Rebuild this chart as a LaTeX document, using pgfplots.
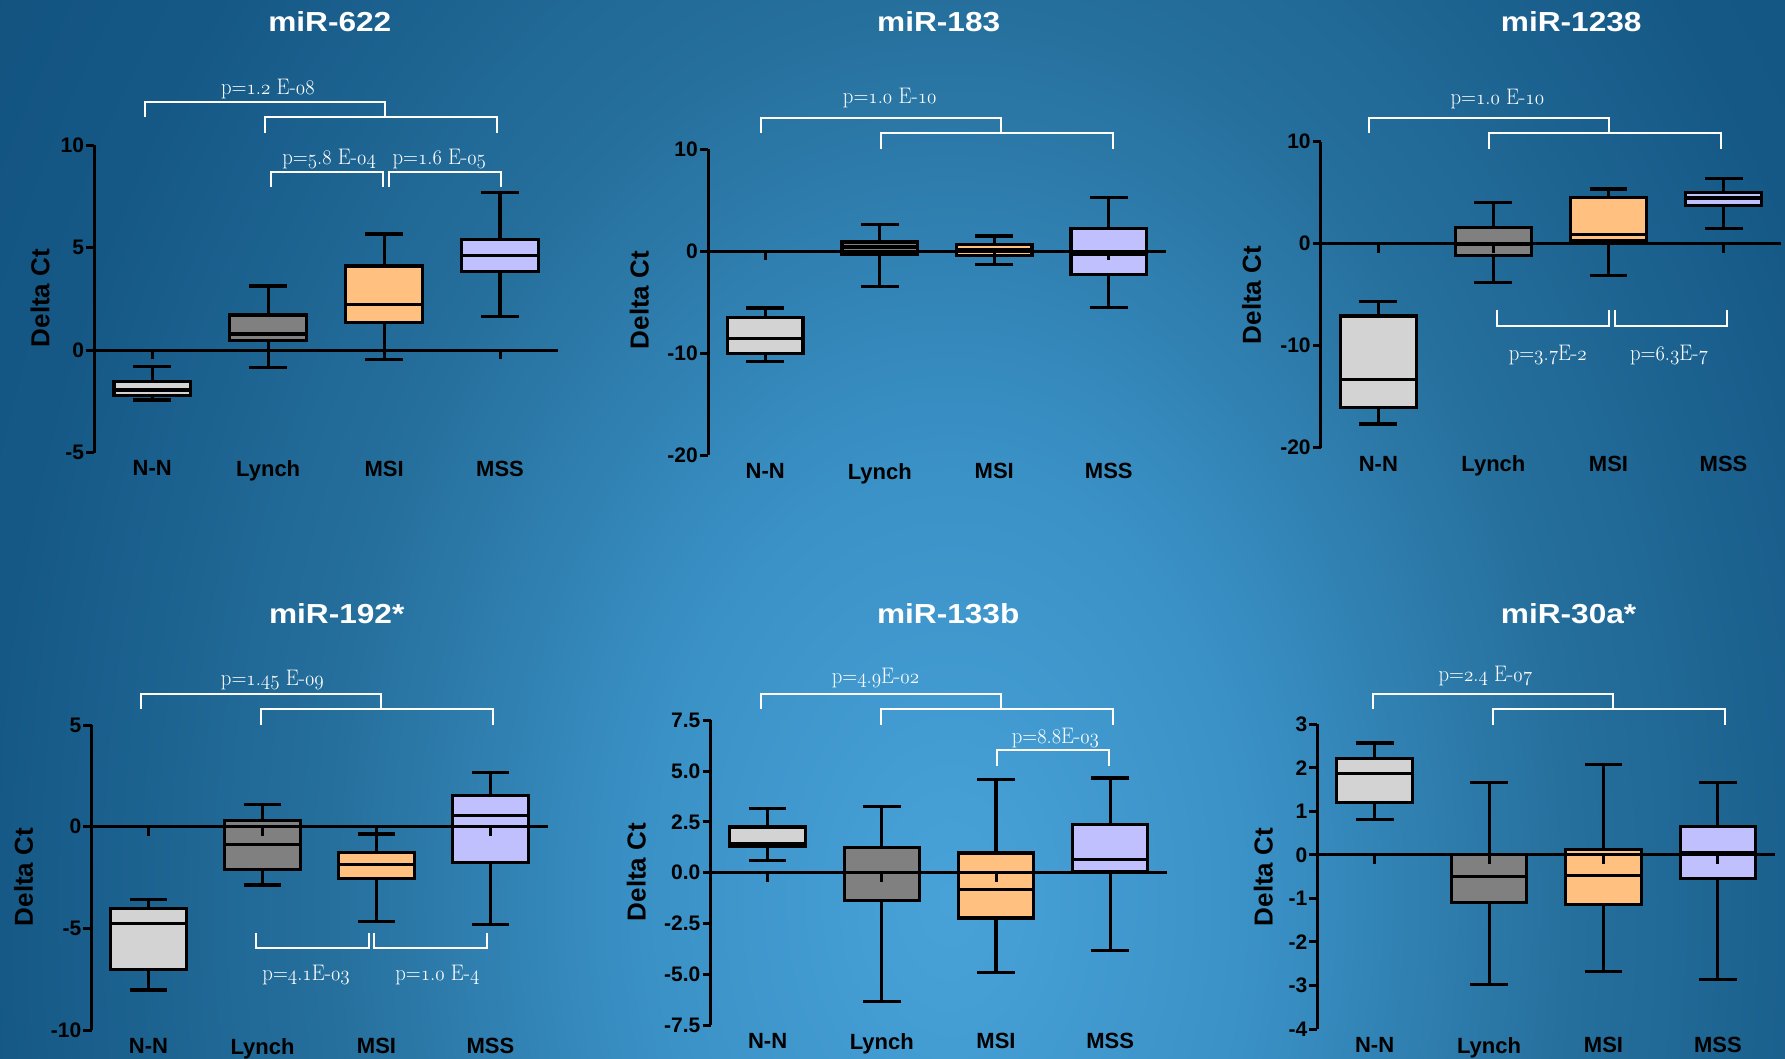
\documentclass[border=0pt]{standalone}
\usepackage{fontspec}
\setsansfont{Liberation Sans}
\usepackage{graphicx}
\usepackage{pgfplots}
\pgfplotsset{compat=1.18}
\usepgfplotslibrary{statistics}
\definecolor{nn}{RGB}{211,211,211}
\definecolor{ly}{RGB}{128,128,128}
\definecolor{msi}{RGB}{255,192,128}
\definecolor{mss}{RGB}{192,192,255}
\definecolor{bgA}{RGB}{72,162,216}
\definecolor{bgB}{RGB}{58,145,198}
\definecolor{bgC}{RGB}{38,112,157}
\definecolor{bgD}{RGB}{21,88,134}
\definecolor{bgE}{RGB}{16,78,122}
\pgfdeclareradialshading{bgshade}{\pgfpoint{0bp}{0bp}}{color(0bp)=(bgA); color(8bp)=(bgB); color(16bp)=(bgC); color(25bp)=(bgD); color(35bp)=(bgE); color(50bp)=(bgE)}
\newcommand\osn[1]{{\fontencoding{OML}\fontfamily{cmm}\fontseries{m}\fontshape{it}\selectfont #1}}
\newcommand\labfont{\sffamily\bfseries\fontsize{22}{22}\selectfont}
\newcommand\tickfont{\sffamily\bfseries\fontsize{21}{21}\selectfont}
\newcommand\lab[1]{#1}
\newcommand\pval[3]{\node[white, anchor=base, font=\rmfamily\fontsize{22.5}{22.5}\selectfont] at (#1,-#2) {\scalebox{0.92}[1]{#3}};}
\newcommand\ttl[3]{\node[white, anchor=base, font=\sffamily\bfseries\fontsize{27.5}{27.5}\selectfont] at (#1,-#2) {\scalebox{1.15}[1]{#3}};}
\newcommand\dct[2]{\node[black, rotate=90, font=\sffamily\bfseries\fontsize{26}{26}\selectfont] at (#1,-#2) {Delta Ct};}
\newcommand\brk[4]{\draw[white, line width=2pt] (#1,-#4) -- (#1,-#3) -- (#2,-#3) -- (#2,-#4);}
\newcommand\bp[7]{\addplot[draw=black, line width=3.1pt, fill=#1, mark=none, solid,
  boxplot prepared={draw position=#2, lower whisker=#3, lower quartile=#4, median=#5, upper quartile=#6, upper whisker=#7},
  boxplot/every box/.style={fill=#1}] coordinates {};}
\newcommand\zl{%
  \draw[line width=3pt, black] (axis cs:-0.5,0) -- (axis cs:3.5,0);
  \draw[line width=3pt, black] (axis cs:0,0) -- ++(0pt,-9pt);
  \draw[line width=3pt, black] (axis cs:1,0) -- ++(0pt,-9pt);
  \draw[line width=3pt, black] (axis cs:2,0) -- ++(0pt,-9pt);
  \draw[line width=3pt, black] (axis cs:3,0) -- ++(0pt,-9pt);}
\pgfplotsset{
  panel/.style={
    scale only axis, anchor=south west,
    xmin=-0.5, xmax=3.5,
    axis lines*=left,
    axis line style={-},
    x axis line style={draw=none},
    y axis line style={line width=3pt, black},
    xtick={0,1,2,3},
    xticklabels={\lab{N-N},\lab{Lynch},\lab{MSI},\lab{MSS}},
    xtick style={draw=none},
    ytick style={line width=3pt, black},
    tick align=outside,
    major tick length=8pt,
    xticklabel style={font=\labfont, inner sep=0pt},
    yticklabel style={font=\tickfont, inner sep=2pt},
    /pgf/number format/assume math mode=true,
    clip=false,
    boxplot/draw direction=y,
    boxplot/box extend=0.66,
    boxplot/whisker extend=0.33,
  },
}
\begin{document}
\begin{tikzpicture}[x=1pt,y=1pt]
\useasboundingbox (0,0) rectangle (1785,-1058);
\begin{scope}
\clip (0,0) rectangle (1785,-1058);
\shade[shading=bgshade] (-10pt,485pt) rectangle (1910pt,-2285pt);
\end{scope}

% Panel 1: miR-622
\begin{axis}[panel, at={(94.3pt,-452.5pt)}, width=463.7pt, height=307.5pt, ymin=-5, ymax=10, ytick={-5,0,5,10}]
\bp{nn}{0}{-2.44}{-2.24}{-1.95}{-1.54}{-0.81}
\bp{ly}{1}{-0.86}{0.46}{0.78}{1.71}{3.12}
\bp{msi}{2}{-0.46}{1.35}{2.24}{4.10}{5.66}
\bp{mss}{3}{1.63}{3.82}{4.59}{5.40}{7.67}
\zl
\end{axis}

% Panel 2: miR-183
\begin{axis}[panel, at={(708pt,-455pt)}, width=458pt, height=306pt, ymin=-20, ymax=10, ytick={-20,-10,0,10}]
\bp{nn}{0}{-10.82}{-10.07}{-8.59}{-6.54}{-5.59}
\bp{ly}{1}{-3.46}{-0.36}{0.39}{0.88}{2.61}
\bp{msi}{2}{-1.34}{-0.46}{0.16}{0.62}{1.47}
\bp{mss}{3}{-5.56}{-2.32}{-0.33}{2.25}{5.23}
\zl
\end{axis}

% Panel 3: miR-1238
\begin{axis}[panel, at={(1320.8pt,-447.7pt)}, width=460.3pt, height=306pt, ymin=-20, ymax=10, ytick={-20,-10,0,10}]
\bp{nn}{0}{-17.68}{-16.05}{-13.3}{-7.09}{-5.69}
\bp{ly}{1}{-3.79}{-1.18}{-0.05}{1.60}{4.05}
\bp{msi}{2}{-3.14}{0.29}{0.92}{4.51}{5.36}
\bp{mss}{3}{1.47}{3.79}{4.48}{5.03}{6.41}
\zl
\end{axis}

% Panel 4: miR-192*
\begin{axis}[panel, at={(91.5pt,-1030pt)}, width=456pt, height=305pt, ymin=-10, ymax=5, ytick={-10,-5,0,5}]
\bp{nn}{0}{-8.03}{-7.02}{-4.75}{-4.02}{-3.57}
\bp{ly}{1}{-2.87}{-2.10}{-0.87}{0.30}{1.07}
\bp{msi}{2}{-4.67}{-2.54}{-1.84}{-1.26}{-0.36}
\bp{mss}{3}{-4.80}{-1.75}{0.57}{1.52}{2.67}
\zl
\end{axis}

% Panel 5: miR-133b
\begin{axis}[panel, at={(710.5pt,-1025pt)}, width=456.8pt, height=304.7pt, ymin=-7.5, ymax=7.5, ytick={-7.5,-5,-2.5,0,2.5,5,7.5},
  yticklabel style={/pgf/number format/fixed, /pgf/number format/fixed zerofill, /pgf/number format/precision=1}]
\bp{nn}{0}{0.61}{1.30}{1.43}{2.25}{3.16}
\bp{ly}{1}{-6.34}{-1.39}{0.0}{1.26}{3.26}
\bp{msi}{2}{-4.93}{-2.23}{-0.84}{0.97}{4.59}
\bp{mss}{3}{-3.85}{0.07}{0.64}{2.36}{4.66}
\zl
\end{axis}

% Panel 6: miR-30a*
\begin{axis}[panel, at={(1317.4pt,-1029pt)}, width=457.7pt, height=304.7pt, ymin=-4, ymax=3, ytick={-4,-3,-2,-1,0,1,2,3}]
\bp{nn}{0}{0.82}{1.20}{1.88}{2.21}{2.57}
\bp{ly}{1}{-2.97}{-1.10}{-0.50}{0.0}{1.66}
\bp{msi}{2}{-2.68}{-1.13}{-0.47}{0.13}{2.08}
\bp{mss}{3}{-2.87}{-0.55}{0.05}{0.65}{1.67}
\zl
\end{axis}

% titles
\ttl{329.8}{31}{miR-622}
\ttl{938.7}{31}{miR-183}
\ttl{1571.2}{31}{miR-1238}
\ttl{336.7}{623}{miR-192*}
\ttl{948.2}{623}{miR-133b}
\ttl{1568.6}{623}{miR-30a*}

% y labels
\dct{40.2}{298}
\dct{639.4}{300}
\dct{1251.5}{295}
\dct{23.7}{877}
\dct{636.4}{872}
\dct{1263.4}{877}

% brackets
\brk{144.6}{384.6}{102}{117}
\brk{264.8}{496.7}{117}{133}
\brk{270.9}{382.7}{172}{187}
\brk{388.8}{501.3}{172}{187}
\brk{760.7}{1001.0}{118}{133}
\brk{881.3}{1112.8}{133}{149}
\brk{1369.0}{1609.3}{118}{133}
\brk{1489.2}{1721.2}{133}{149}
\brk{1496.6}{1609.3}{326}{310}
\brk{1614.9}{1726.8}{326}{310}
\brk{140.8}{380.7}{694}{709}
\brk{261.0}{492.8}{709}{725}
\brk{256.4}{368.5}{948}{933}
\brk{374.2}{486.7}{948}{933}
\brk{760.7}{1001.0}{694}{709}
\brk{881.3}{1112.8}{709}{725}
\brk{996.8}{1108.9}{750}{766}
\brk{1372.7}{1613.0}{694}{709}
\brk{1492.9}{1725.0}{709}{725}

% p-values
\pval{267.9}{94}{p=\osn{1}.\osn{2} E-\osn{08}}
\pval{329.1}{164}{p=\osn{5}.\osn{8} E-\osn{04}}
\pval{439.3}{164}{p=\osn{1}.\osn{6} E-\osn{05}}
\pval{889.7}{103}{p=\osn{1}.\osn{0} E-\osn{10}}
\pval{1497.4}{104}{p=\osn{1}.\osn{0} E-\osn{10}}
\pval{1547.7}{360}{p=\osn{3}.\osn{7}E-\osn{2}}
\pval{1669.0}{360}{p=\osn{6}.\osn{3}E-\osn{7}}
\pval{272.4}{685}{p=\osn{1}.\osn{45} E-\osn{09}}
\pval{306.1}{980}{p=\osn{4}.\osn{1}E-\osn{03}}
\pval{437.4}{980}{p=\osn{1}.\osn{0} E-\osn{4}}
\pval{875.5}{683}{p=\osn{4}.\osn{9}E-\osn{02}}
\pval{1055.4}{743}{p=\osn{8}.\osn{8}E-\osn{03}}
\pval{1485.4}{681}{p=\osn{2}.\osn{4} E-\osn{07}}
\end{tikzpicture}
\end{document}
